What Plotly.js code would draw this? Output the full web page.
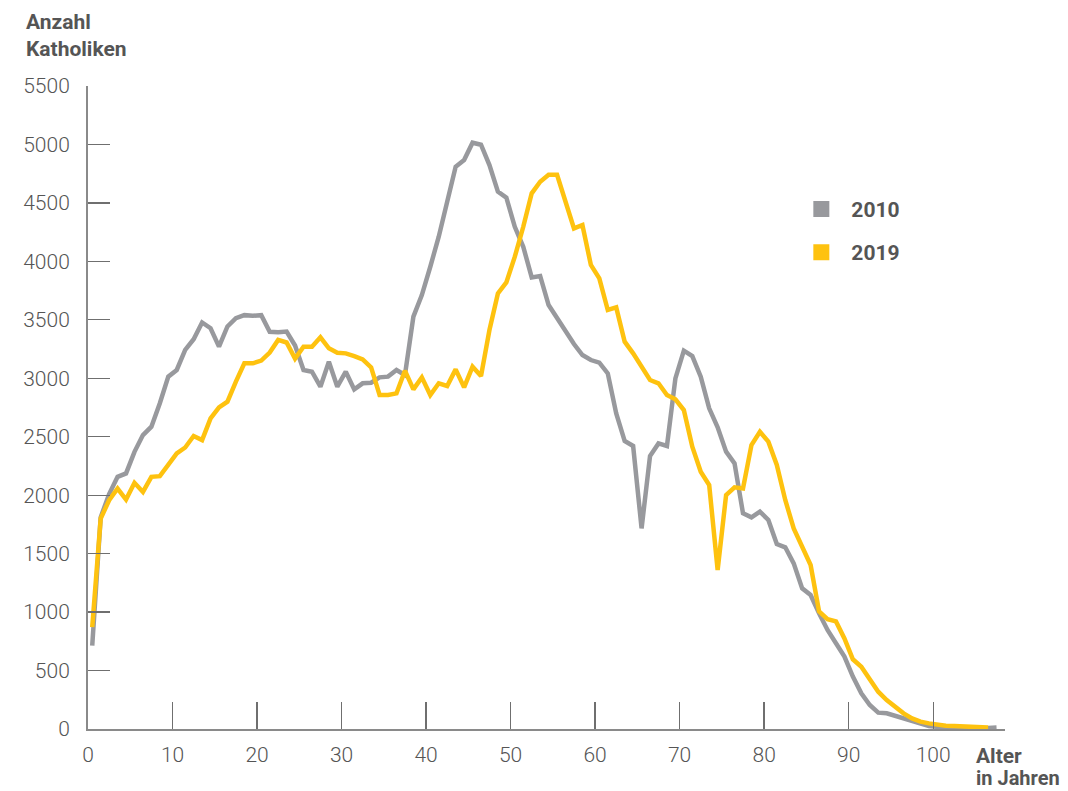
<!DOCTYPE html>
<html>
<head>
<meta charset="utf-8">
<script src="https://cdn.plot.ly/plotly-3.0.1.min.js"></script>
<style>
  html, body { margin: 0; padding: 0; background: #ffffff; }
  #chart { width: 1068px; height: 791px; }
</style>
</head>
<body>
<div id="chart"></div>
<script>
// Age classes (years); points sit at the middle of each one-year class
const ages2010 = [];
for (let a = 0; a <= 107; a++) ages2010.push(a);
const ages2019 = [];
for (let a = 0; a <= 106; a++) ages2019.push(a);

// Number of Catholics by age, 2010
const values2010 = [
  714, 1810, 2010, 2157, 2186, 2371, 2514, 2586, 2786, 3014,
  3071, 3243, 3334, 3477, 3428, 3271, 3443, 3514, 3540, 3534,
  3540, 3397, 3394, 3400, 3280, 3071, 3056, 2928, 3142, 2928,
  3056, 2905, 2957, 2962, 3008, 3014, 3071, 3028, 3527, 3712,
  3954, 4211, 4510, 4810, 4867, 5015, 4998, 4824, 4596, 4545,
  4296, 4125, 3863, 3875, 3626, 3512, 3398, 3293, 3199, 3156,
  3133, 3042, 2700, 2463, 2421, 1716, 2335, 2443, 2421, 2999,
  3236, 3190, 3014, 2743, 2580, 2372, 2272, 1845, 1810, 1859,
  1788, 1582, 1554, 1417, 1203, 1146, 989, 847, 733, 619,
  448, 305, 205, 140, 134, 111, 91, 63, 43, 26,
  18, 14, 12, 10, 8, 7, 8, 12
];

// Number of Catholics by age, 2019
const values2019 = [
  871, 1800, 1957, 2057, 1963, 2106, 2028, 2157, 2163, 2257,
  2357, 2408, 2506, 2471, 2657, 2751, 2800, 2971, 3128, 3128,
  3151, 3220, 3328, 3306, 3168, 3270, 3270, 3350, 3256, 3219,
  3213, 3190, 3162, 3093, 2857, 2857, 2871, 3065, 2905, 3008,
  2857, 2957, 2934, 3076, 2922, 3099, 3019, 3413, 3726, 3820,
  4040, 4296, 4582, 4681, 4741, 4741, 4525, 4282, 4311, 3969,
  3855, 3584, 3606, 3313, 3213, 3099, 2985, 2957, 2857, 2820,
  2728, 2415, 2201, 2087, 1360, 2001, 2067, 2058, 2429, 2543,
  2458, 2258, 1959, 1716, 1559, 1403, 1006, 940, 920, 775,
  596, 533, 425, 319, 248, 185, 134, 91, 63, 48,
  34, 28, 25, 22, 18, 15, 12
];

const seriesNames = ["2010", "2019"];
const xTickVals = [0, 10, 20, 30, 40, 50, 60, 70, 80, 90, 100];
const yTickVals = [0, 500, 1000, 1500, 2000, 2500, 3000, 3500, 4000, 4500, 5000, 5500];

const GRAY = "#98999d";
const YELLOW = "#fec20f";
const TEXT = "#555555";
const FONT = "Roboto, 'Open Sans', sans-serif";

const mid = arr => arr.map(a => a + 0.5);

const traces = [
  {
    x: mid(ages2010), y: values2010, type: "scatter", mode: "lines",
    line: { color: GRAY, width: 4.5, shape: "linear" },
    showlegend: false, hoverinfo: "skip"
  },
  {
    x: mid(ages2019), y: values2019, type: "scatter", mode: "lines",
    line: { color: YELLOW, width: 4.5, shape: "linear" },
    showlegend: false, hoverinfo: "skip"
  },
  {
    x: [null], y: [null], type: "scatter", mode: "markers", name: seriesNames[0],
    marker: { symbol: "square", size: 16, color: GRAY },
    legend: "legend", showlegend: true, hoverinfo: "skip"
  },
  {
    x: [null], y: [null], type: "scatter", mode: "markers", name: seriesNames[1],
    marker: { symbol: "square", size: 16, color: YELLOW },
    legend: "legend2", showlegend: true, hoverinfo: "skip"
  }
];

const boldFont = { family: FONT, size: 21, color: TEXT, weight: 700 };
const tickFont = { family: FONT, size: 21, color: TEXT, weight: 300 };

const legendStyle = {
  xanchor: "left", yanchor: "middle",
  font: boldFont,
  itemwidth: 50, bgcolor: "rgba(0,0,0,0)", borderwidth: 0,
  itemclick: false, itemdoubleclick: false
};

const layout = {
  width: 1068, height: 791,
  paper_bgcolor: "#ffffff", plot_bgcolor: "#ffffff",
  margin: { l: 88, r: 63, t: 86, b: 62, pad: 0 },
  font: { family: FONT, color: TEXT },
  xaxis: {
    range: [0, 108.5], fixedrange: true,
    tickmode: "array", tickvals: xTickVals, ticktext: xTickVals.map(String),
    ticks: "inside", ticklen: 27, tickwidth: 1.3, tickcolor: "#6f6f6f",
    showline: true, linecolor: "#8a8a8a", linewidth: 2,
    showgrid: false, zeroline: false,
    tickfont: tickFont,
    ticklabelstandoff: 6
  },
  yaxis: {
    range: [0, 5500], fixedrange: true,
    tickmode: "array", tickvals: yTickVals, ticktext: yTickVals.map(String),
    ticks: "inside", ticklen: 22, tickwidth: 1.3, tickcolor: "#6f6f6f",
    showline: true, linecolor: "#8a8a8a", linewidth: 2,
    showgrid: false, zeroline: false,
    tickfont: tickFont,
    ticklabelstandoff: 12
  },
  legend: Object.assign({}, legendStyle, { x: 0.767, y: 0.808 }),
  legend2: Object.assign({}, legendStyle, { x: 0.767, y: 0.741 }),
  annotations: [
    { text: "Anzahl", x: -0.0698, y: 1.0995 },
    { text: "Katholiken", x: -0.0698, y: 1.0575 },
    { text: "Alter", x: 0.9662, y: -0.0420 },
    { text: "in Jahren", x: 0.9662, y: -0.0762, font: { family: FONT, size: 20, color: TEXT, weight: 700 } }
  ].map(a => Object.assign({
    xref: "paper", yref: "paper", xanchor: "left", yanchor: "middle",
    align: "left", showarrow: false, font: boldFont
  }, a))
};

Plotly.newPlot("chart", traces, layout, { staticPlot: true, displayModeBar: false });
</script>
</body>
</html>
